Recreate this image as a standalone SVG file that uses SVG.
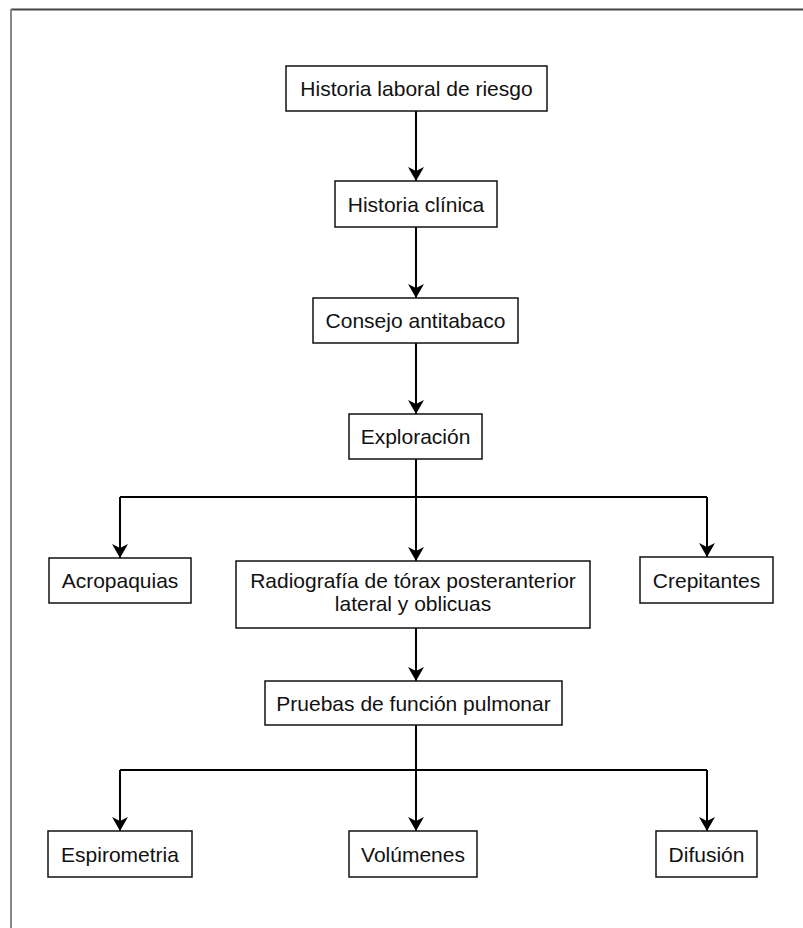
<svg xmlns="http://www.w3.org/2000/svg" width="803" height="928" viewBox="0 0 803 928">
<style>
.box{fill:#fff;stroke:#111;stroke-width:1.5}
.lbl{font-family:"Liberation Sans",Arial,sans-serif;font-size:21px;fill:#111;text-anchor:middle}
.con{fill:none;stroke:#000;stroke-width:2}
.arr{marker-end:url(#ah)}
</style>
<defs>
<marker id="ah" markerUnits="userSpaceOnUse" markerWidth="14" markerHeight="16" viewBox="0 0 14 16" refX="14" refY="8" orient="auto">
<path d="M0,0 L14,8 L0,16 L4,8 z" fill="#000"/>
</marker>
</defs>
<rect width="803" height="928" fill="#fff"/>
<g id="frame">
<line x1="11" y1="9.5" x2="803" y2="9.5" stroke="#444" stroke-width="2"/>
<line x1="11" y1="9" x2="11" y2="928" stroke="#888" stroke-width="2"/>
</g>
<g id="connectors">
<path class="con arr" d="M416,111 V181"/>
<path class="con arr" d="M416,227 V298"/>
<path class="con arr" d="M416,343 V414"/>
<path class="con" d="M416,459 V497"/>
<path class="con arr" d="M120,497 V558"/>
<path class="con" d="M120,497 H707"/>
<path class="con arr" d="M707,497 V557"/>
<path class="con arr" d="M416,497 V561"/>
<path class="con arr" d="M416,628 V681"/>
<path class="con" d="M416,725 V770"/>
<path class="con" d="M120,770 H707"/>
<path class="con arr" d="M120,770 V831"/>
<path class="con arr" d="M416,770 V831"/>
<path class="con arr" d="M707,770 V831"/>
</g>
<g id="n1"><rect class="box" x="286" y="66" width="261" height="45"/><text class="lbl" x="416.5" y="96">Historia laboral de riesgo</text></g>
<g id="n2"><rect class="box" x="335" y="181" width="162" height="46"/><text class="lbl" x="416" y="211.5">Historia clínica</text></g>
<g id="n3"><rect class="box" x="313" y="298" width="205" height="45"/><text class="lbl" x="415.5" y="328">Consejo antitabaco</text></g>
<g id="n4"><rect class="box" x="349" y="414" width="133" height="45"/><text class="lbl" x="415.5" y="444">Exploración</text></g>
<g id="n5"><rect class="box" x="49" y="558" width="142" height="45"/><text class="lbl" x="120" y="588">Acropaquias</text></g>
<g id="n6"><rect class="box" x="236" y="561" width="354" height="67"/><text class="lbl" x="413" y="588">Radiografía de tórax posteranterior</text><text class="lbl" x="413" y="611">lateral y oblicuas</text></g>
<g id="n7"><rect class="box" x="640" y="557" width="133" height="46"/><text class="lbl" x="706.5" y="587.5">Crepitantes</text></g>
<g id="n8"><rect class="box" x="265" y="681" width="297" height="44"/><text class="lbl" x="413.5" y="710.5">Pruebas de función pulmonar</text></g>
<g id="n9"><rect class="box" x="48" y="831" width="144" height="46"/><text class="lbl" x="120" y="861.5">Espirometria</text></g>
<g id="n10"><rect class="box" x="349" y="831" width="128" height="46"/><text class="lbl" x="413" y="861.5">Volúmenes</text></g>
<g id="n11"><rect class="box" x="656" y="831" width="101" height="46"/><text class="lbl" x="706.5" y="861.5">Difusión</text></g>
</svg>
